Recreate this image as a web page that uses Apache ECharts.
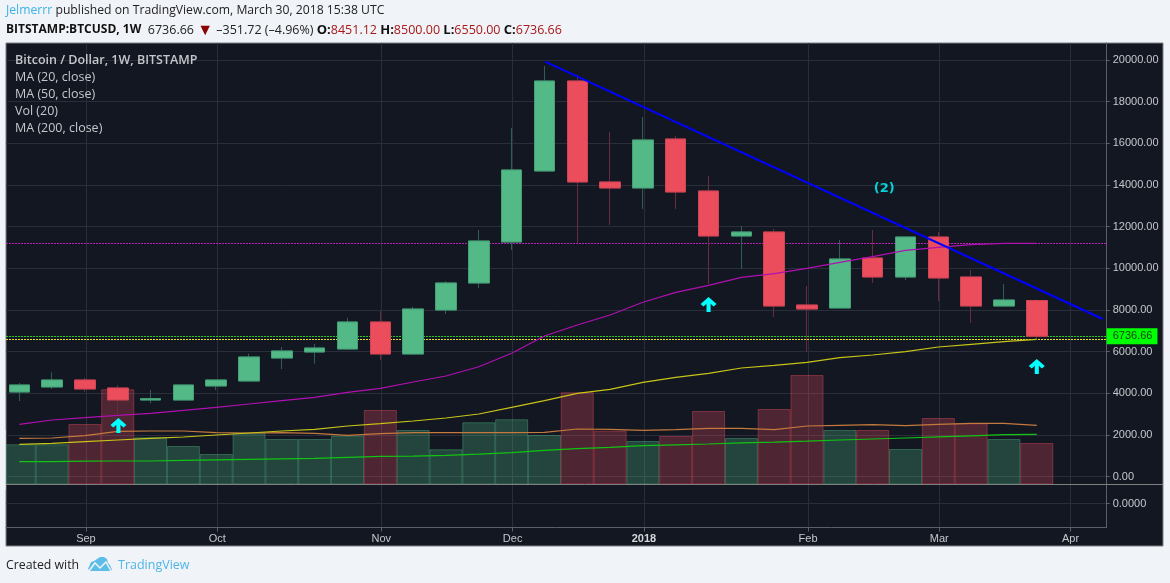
<!DOCTYPE html>
<html>
<head>
<meta charset="utf-8">
<title>BTCUSD 1W</title>
<style>
html,body{margin:0;padding:0;background:#f0f3f7;}
#main{width:1170px;height:583px;}
</style>
<script src="https://cdn.jsdelivr.net/npm/echarts@6/dist/echarts.min.js"></script>
</head>
<body>
<div id="main"></div>
<script>
// weeks are counted from the first candle, x axis is the week number
var weekStart = ['2017-08-14','2017-08-21','2017-08-28','2017-09-04','2017-09-11','2017-09-18','2017-09-25','2017-10-02','2017-10-09','2017-10-16','2017-10-23','2017-10-30','2017-11-06','2017-11-13','2017-11-20','2017-11-27','2017-12-04','2017-12-11','2017-12-18','2017-12-25','2018-01-01','2018-01-08','2018-01-15','2018-01-22','2018-01-29','2018-02-05','2018-02-12','2018-02-19','2018-02-26','2018-03-05','2018-03-12','2018-03-19'];
var opens  = [4058,4298,4634,4250,3673,3673,4346,4586,5690,5978,6122,7419,5882,7995,9292,11261,14670,18991,14142,13854,16207,13709,11549,11741,8235,8091,10492,9580,11500,9580,8187,8451.12];
var closes = [4394,4634,4202,3673,3736,4394,4634,5738,6026,6170,7419,5882,8043,9292,11309,14718,18991,14142,13854,16159,13661,11549,11741,8187,8043,10444,9580,11500,9532,8187,8475,6736.66];
var lows   = [3625,4202,4058,3001,3515,3660,4154,4560,5162,5417,6074,5594,5882,7803,9052,10876,14670,11198,12077,12845,12845,9229,9964,7659,5993,8091,9292,9436,8427,7371,8139,6550];
var highs  = [4490,5004,4745,4394,4154,4420,4634,5897,6218,6362,7626,7947,8154,9388,11837,16735,19712,19280,16543,17263,16351,14430,12029,11885,9148,11357,11837,11549,11741,9916,9244,8500];
var volume = [1930,1930,2905,4571,2267,1849,1465,2459,2185,2185,2343,3577,2617,1690,2987,3131,2377,4427,2583,2089,2329,3529,2233,3625,5258,2617,2617,1705,3193,2939,2185,1993];
var volMa  = [2218,2233,2343,2555,2569,2569,2487,2473,2487,2459,2363,2439,2487,2487,2487,2487,2507,2665,2651,2603,2631,2699,2699,2631,2809,2843,2871,2823,2891,2939,2939,2843];
var ma20   = [2507,2713,2824,2939,3035,3179,3323,3481,3640,3803,4043,4235,4538,4826,5272,5916,6747,7275,7755,8365,8845,9181,9565,9738,9997,10285,10554,10861,11006,11130,11198,11198];
var ma50   = [1546,1590,1671,1753,1834,1897,1993,2089,2185,2267,2425,2535,2665,2809,3001,3323,3640,3995,4187,4523,4763,4955,5210,5340,5484,5705,5834,5993,6218,6348,6473,6588];
var ma200  = [711,717,735,745,745,778,802,826,850,874,922,970,980,1010,1070,1143,1250,1340,1402,1479,1520,1561,1610,1650,1700,1753,1800,1849,1900,1950,2007,2026];

var priceTicks = [0,2000,4000,6000,8000,10000,12000,14000,16000,18000,20000];
var monthWeeks = [2.03,6.03,11.03,15.03,19.03,24.03,28.03,32.03];
var monthNames = ['Sep','Oct','Nov','Dec','2018','Feb','Mar','Apr'];

var trendX = [16.02,33.01];
var trendY = [19918,7563];
var arrowX = [3.02,21,31];
var arrowY = [2449,8259,5282];
var noteX = [26.35];
var noteY = [13806];
var noteText = ['(2)'];
var lastPrice = 6736.66;
var lastMa20 = 11190;
var lastMa50 = 6580;

var legendLines = ['MA (20, close)','MA (50, close)','Vol (20)','MA (200, close)'];

var GREEN = '#53b987', RED = '#eb4d5c';
var GRID = '#2a2e3a', AXIS = '#5d6068', TEXT = '#c5c7cb';
var FONT = '"Open Sans"';

function pairs(ys){
    return ys.map(function(y,i){ return [i,y]; });
}
var candleData = opens.map(function(o,i){
    return [i,o,closes[i],lows[i],highs[i]];
});
// bodies go on top of the wick series so the two can have different colours
var bodyData = opens.map(function(o,i){
    return [i,o,closes[i],Math.min(o,closes[i]),Math.max(o,closes[i])];
});
var volData = volume.map(function(v,i){
    var up = closes[i] >= opens[i];
    return {
        value:[i,v],
        itemStyle:{
            color: up ? 'rgba(83,185,135,0.28)' : 'rgba(235,77,92,0.28)',
            borderColor: up ? 'rgba(83,185,135,0.4)' : 'rgba(235,77,92,0.4)',
            borderWidth:1
        }
    };
});
function maSeries(name,data,color,yIndex){
    return {
        name:name,type:'line',xAxisIndex:0,yAxisIndex:yIndex,data:pairs(data),
        showSymbol:false,symbol:'none',z:5,silent:true,
        lineStyle:{color:color,width:1.2}
    };
}
function dotted(value,color,label){
    var item = {yAxis:value,lineStyle:{color:color,type:[2,1],width:1},label:{show:false}};
    if(label){
        item.label = {
            show:true,position:'end',distance:0,formatter:label,
            color:'#1a3a1a',backgroundColor:'#00ff00',fontFamily:'Liberation Sans',fontSize:11,
            padding:[3,5,2,6]
        };
    }
    return item;
}
var chart = echarts.init(document.getElementById('main'),null,{renderer:'canvas'});
chart.setOption({
    animation:false,
    backgroundColor:'transparent',
    grid:[
        {left:6,right:63.3,top:43,height:441.5},
        {left:6,right:63.3,top:484.5,height:43}
    ],
    xAxis:[{
        type:'value',gridIndex:0,min:-0.405,max:33.13,
        axisLine:{show:false},
        axisTick:{show:false,customValues:monthWeeks},
        axisLabel:{show:false,customValues:monthWeeks},
        splitLine:{show:true,lineStyle:{color:GRID,width:1}}
    },{
        type:'value',gridIndex:1,min:-0.405,max:33.13,
        axisLine:{show:true,onZero:false,lineStyle:{color:AXIS,width:1}},
        axisTick:{show:true,length:4,lineStyle:{color:AXIS},customValues:monthWeeks},
        axisLabel:{
            show:true,customValues:monthWeeks,margin:6,color:TEXT,fontFamily:'Liberation Sans',fontSize:11,
            showMinLabel:true,showMaxLabel:true,
            formatter:function(v){
                var n = monthNames[monthWeeks.indexOf(v)];
                return n == '2018' ? '{b|'+n+'}' : n;
            },
            rich:{b:{fontWeight:'bold',color:'#d6d8db',fontFamily:'Liberation Sans',fontSize:11}}
        },
        splitLine:{show:true,lineStyle:{color:GRID,width:1}}
    }],
    yAxis:[{
        type:'value',gridIndex:0,position:'right',min:-384,max:20816,
        axisLine:{show:true,onZero:false,lineStyle:{color:AXIS,width:1}},
        axisTick:{show:true,length:3,lineStyle:{color:AXIS},customValues:priceTicks},
        axisLabel:{
            show:true,customValues:priceTicks,margin:6,color:TEXT,fontFamily:'Liberation Sans',fontSize:11,
            formatter:function(v){ return v.toFixed(2); }
        },
        splitLine:{show:true,lineStyle:{color:GRID,width:1}}
    },{
        // volume scale, hidden
        type:'value',gridIndex:0,position:'left',min:0,max:21200,show:false,splitLine:{show:false}
    },{
        type:'value',gridIndex:1,position:'right',min:-1.263,max:1,
        axisLine:{show:true,onZero:false,lineStyle:{color:AXIS,width:1}},
        axisTick:{show:true,length:3,lineStyle:{color:AXIS},customValues:[0]},
        axisLabel:{
            show:true,customValues:[0],margin:6,color:TEXT,fontFamily:'Liberation Sans',fontSize:11,
            formatter:function(v){ return v.toFixed(4); }
        },
        splitLine:{show:true,lineStyle:{color:GRID,width:1}}
    }],
    series:[{
        name:'Volume',type:'bar',xAxisIndex:0,yAxisIndex:1,data:volData,barWidth:33,z:1,silent:true,clip:true
    },{
        name:'Wicks',type:'candlestick',xAxisIndex:0,yAxisIndex:0,data:candleData,barWidth:21,z:3,silent:true,
        encode:{x:0,y:[1,2,3,4]},
        itemStyle:{
            color:GREEN,color0:RED,
            borderColor:'#2f5f52',borderColor0:'#6a2c3c',borderWidth:1
        }
    },{
        name:'BTCUSD',type:'candlestick',xAxisIndex:0,yAxisIndex:0,data:bodyData,barWidth:21,z:4,silent:true,
        encode:{x:0,y:[1,2,3,4]},
        itemStyle:{
            color:GREEN,color0:RED,
            borderColor:'#45a078',borderColor0:'#cf4554',borderWidth:1
        },
        markLine:{
            silent:true,symbol:'none',animation:false,z:2,
            data:[dotted(lastMa20,'#b81cb8'),dotted(lastMa50,'#e6e622'),dotted(lastPrice,'#22cc22',lastPrice.toFixed(2))]
        }
    },
    maSeries('Vol (20)',volMa,'#c47a3c',1),
    maSeries('MA (200, close)',ma200,'#12c412',0),
    maSeries('MA (50, close)',ma50,'#c8c418',0),
    maSeries('MA (20, close)',ma20,'#b010b0',0),
    {
        name:'Trend',type:'line',xAxisIndex:0,yAxisIndex:0,symbol:'none',z:6,silent:true,
        data:trendX.map(function(x,i){ return [x,trendY[i]]; }),
        lineStyle:{color:'#0000ff',width:2}
    },{
        name:'Arrows',type:'scatter',xAxisIndex:0,yAxisIndex:0,z:7,silent:true,
        data:arrowX.map(function(x,i){ return [x,arrowY[i]]; }),
        symbol:'path://M7 0 L0 7 L2.6 9.4 L5.2 6.8 L5.2 15 L8.8 15 L8.8 6.8 L11.4 9.4 L14 7 Z',
        symbolSize:[16,15],
        itemStyle:{color:'#00ffff',opacity:1}
    },{
        name:'Note',type:'scatter',xAxisIndex:0,yAxisIndex:0,z:7,silent:true,
        data:noteX.map(function(x,i){ return [x,noteY[i],noteText[i]]; }),
        symbolSize:1,itemStyle:{color:'transparent'},
        label:{
            show:true,position:'inside',formatter:function(p){ return p.data[2]; },
            color:'#00ffff',fontFamily:'DejaVu Sans',fontWeight:'bold',fontSize:13
        }
    }],
    graphic:[
        // panel behind the grids
        {type:'rect',z:-20,silent:true,shape:{x:6,y:43,width:1157,height:503},
            style:{fill:'#131722',stroke:'#7d8086',lineWidth:1}},
        {type:'line',z:100,silent:true,shape:{x1:6,y1:484.5,x2:1163,y2:484.5},style:{stroke:'#7d7f80',lineWidth:1}},
        {type:'text',z:100,silent:true,x:6,y:11,style:{
            text:'{a|Jelmerrr} published on TradingView.com, March 30, 2018 15:38 UTC',
            fill:'#222',font:'12.2px '+FONT,verticalAlign:'middle',
            rich:{a:{fill:'#3bb3e4',font:'12.2px '+FONT}}
        }},
        {type:'text',z:100,silent:true,x:6,y:30,style:{
            text:'{b|BITSTAMP:BTCUSD, 1W}  6736.66 {d|▼} –351.72 (–4.96%) {h|O:}{r|8451.12} {h|H:}{r|8500.00} {h|L:}{r|6550.00} {h|C:}{r|6736.66}',
            fill:'#222',font:'12.5px '+FONT,verticalAlign:'middle',
            rich:{
                b:{fill:'#111',font:'bold 12px '+FONT},
                h:{fill:'#111',font:'bold 13px '+FONT},
                r:{fill:'#a81818',font:'12.5px '+FONT},
                d:{fill:'#8b0000',font:'16px '+FONT}
            }
        }},
        {type:'text',z:100,silent:true,x:15,y:60.5,style:{text:'Bitcoin / Dollar, 1W, BITSTAMP',fill:TEXT,font:'600 12.5px '+FONT,verticalAlign:'middle'}},
        {type:'text',z:100,silent:true,x:15,y:77.5,style:{text:legendLines[0],fill:TEXT,font:'12.5px '+FONT,verticalAlign:'middle'}},
        {type:'text',z:100,silent:true,x:15,y:94.5,style:{text:legendLines[1],fill:TEXT,font:'12.5px '+FONT,verticalAlign:'middle'}},
        {type:'text',z:100,silent:true,x:15,y:111.5,style:{text:legendLines[2],fill:TEXT,font:'12.5px '+FONT,verticalAlign:'middle'}},
        {type:'text',z:100,silent:true,x:15,y:128.5,style:{text:legendLines[3],fill:TEXT,font:'12.5px '+FONT,verticalAlign:'middle'}},
        {type:'text',z:100,silent:true,x:6,y:565,style:{text:'Created with',fill:'#222',font:'12.3px '+FONT,verticalAlign:'middle'}},
        {type:'polygon',z:100,silent:true,shape:{
            points:[[88,569],[91,562],[94,561],[97,559],[100,557],[104,557],[107,559],[108,563],[110,565],[112,570],[110,571],[90,571]]
        },style:{fill:'#5bbde8'}},
        {type:'polyline',z:101,silent:true,shape:{points:[[89,571],[95,563],[100,568],[106,562],[111,571]]},
            style:{stroke:'#f0f3f7',fill:null,lineWidth:1.5}},
        {type:'text',z:100,silent:true,x:118,y:565,style:{text:'TradingView',fill:'#4fb6e6',font:'12.5px '+FONT,verticalAlign:'middle'}},
        // first volume bar spills past the panel edge
        {type:'rect',z:100,silent:true,shape:{x:0,y:430,width:5.5,height:60},style:{fill:'#f0f3f7'}}
    ]
});
</script>
</body>
</html>
